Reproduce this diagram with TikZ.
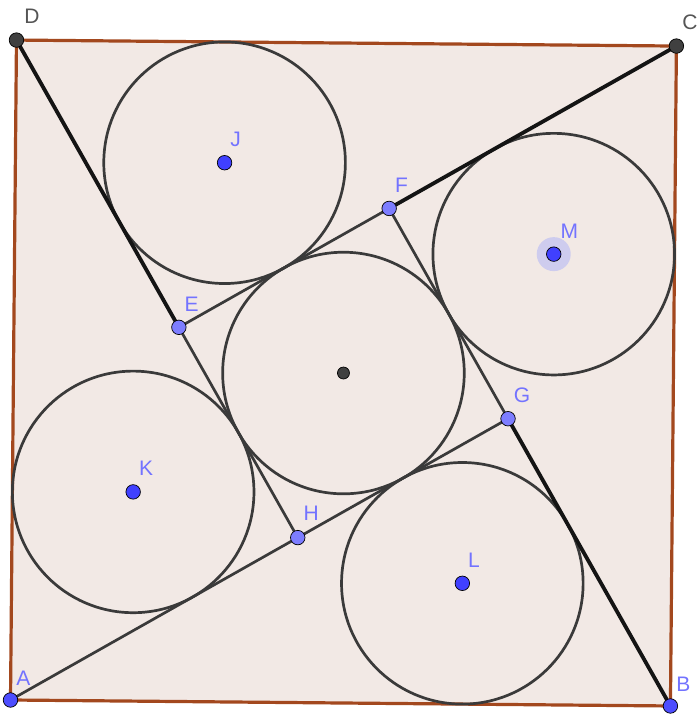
\documentclass[tikz,border=0pt]{standalone}
\usepackage{fontspec}
\setmainfont{Liberation Sans}
\definecolor{sqfill}{RGB}{242,233,229}
\definecolor{sqedge}{RGB}{163,72,30}
\definecolor{ptdark}{RGB}{64,64,64}
\definecolor{ptAB}{RGB}{77,77,255}
\definecolor{ptEH}{RGB}{125,125,255}
\definecolor{ptJM}{RGB}{64,64,255}
\definecolor{lblblue}{RGB}{115,115,255}
\definecolor{lblgray}{RGB}{85,85,85}
\definecolor{halo}{RGB}{206,204,238}
\definecolor{thinln}{RGB}{58,58,58}
\tikzset{
  sq/.style={draw=sqedge, fill=sqfill, line width=3.2pt, line join=round},
  circ/.style={draw=thinln, line width=2.7pt},
  thickln/.style={draw=black!92, line width=3.8pt},
  thinl/.style={draw=thinln, line width=2.7pt},
  pt/.style={circle, draw=black, line width=0.7pt, inner sep=0pt, minimum size=14.5pt},
  lbl/.style={anchor=base west, inner sep=0pt, font=\fontsize{21}{21}\selectfont},
}
\begin{document}
\begin{tikzpicture}[x=1pt,y=1pt]
\useasboundingbox (0,0) rectangle (698,714);
\fill[white] (0,0) rectangle (698,714);
\begin{scope}[shift={(10.5,14)}, rotate=-0.52, x=660pt, y=660pt]
  \coordinate (pA) at (0,0);
  \coordinate (pB) at (1,0);
  \coordinate (pC) at (1,1);
  \coordinate (pD) at (0,1);
  \coordinate (pH) at (0.43301,0.25);
  \coordinate (pG) at (0.75,0.43301);
  \coordinate (pF) at (0.56699,0.75);
  \coordinate (pE) at (0.25,0.56699);
  \coordinate (pO) at (0.5,0.5);
  \coordinate (pK) at (0.18301,0.31699);
  \coordinate (pL) at (0.68301,0.18301);
  \coordinate (pM) at (0.81699,0.68301);
  \coordinate (pJ) at (0.31699,0.81699);
  % square
  \path[sq] (pA) -- (pB) -- (pC) -- (pD) -- cycle;
  % circles
  \foreach \c in {pO,pJ,pK,pL,pM}
    \draw[circ] (\c) circle[radius=120.8pt];
  % thin lines
  \draw[thinl] (pA) -- (pH);
  \draw[thinl] (pE) -- (pF);
  \draw[thinl] (pF) -- (pG);
  \draw[thinl] (pG) -- (pH);
  \draw[thinl] (pH) -- (pE);
  % thick lines
  \draw[thickln] (pD) -- (pE);
  \draw[thickln] (pC) -- (pF);
  \draw[thickln] (pB) -- (pG);
  % halo of M
  \fill[halo] (pM) circle[radius=17pt];
  % points
  \node[pt, fill=ptAB] (A) at (pA) {};
  \node[pt, fill=ptAB] (B) at (pB) {};
  \node[pt, fill=ptdark] (C) at (pC) {};
  \node[pt, fill=ptdark] (D) at (pD) {};
  \node[pt, fill=ptEH] (E) at (pE) {};
  \node[pt, fill=ptEH] (F) at (pF) {};
  \node[pt, fill=ptEH] (G) at (pG) {};
  \node[pt, fill=ptEH] (H) at (pH) {};
  \node[pt, fill=ptdark, minimum size=12pt] (O) at (pO) {};
  \node[pt, fill=ptJM] (J) at (pJ) {};
  \node[pt, fill=ptJM] (K) at (pK) {};
  \node[pt, fill=ptJM] (L) at (pL) {};
  \node[pt, fill=ptJM] (M) at (pM) {};
  % labels
  \node[lbl, text=lblblue] (lA) at ([shift={(5.5pt,15pt)}]pA) {A};
  \node[lbl, text=lblblue] (lB) at ([shift={(5.5pt,15pt)}]pB) {B};
  \node[lbl, text=lblgray] (lC) at ([shift={(5.5pt,17pt)}]pC) {C};
  \node[lbl, text=lblgray] (lD) at ([shift={(7.5pt,17pt)}]pD) {D};
  \node[lbl, text=lblblue] (lE) at ([shift={(5.5pt,16pt)}]pE) {E};
  \node[lbl, text=lblblue] (lF) at ([shift={(5.5pt,16pt)}]pF) {F};
  \node[lbl, text=lblblue] (lG) at ([shift={(5.5pt,16pt)}]pG) {G};
  \node[lbl, text=lblblue] (lH) at ([shift={(5.5pt,17pt)}]pH) {H};
  \node[lbl, text=lblblue] (lJ) at ([shift={(5.5pt,16pt)}]pJ) {J};
  \node[lbl, text=lblblue] (lK) at ([shift={(5.5pt,16pt)}]pK) {K};
  \node[lbl, text=lblblue] (lL) at ([shift={(5.5pt,16pt)}]pL) {L};
  \node[lbl, text=lblblue] (lM) at ([shift={(6.5pt,16pt)}]pM) {M};
\end{scope}
\end{tikzpicture}
\end{document}
